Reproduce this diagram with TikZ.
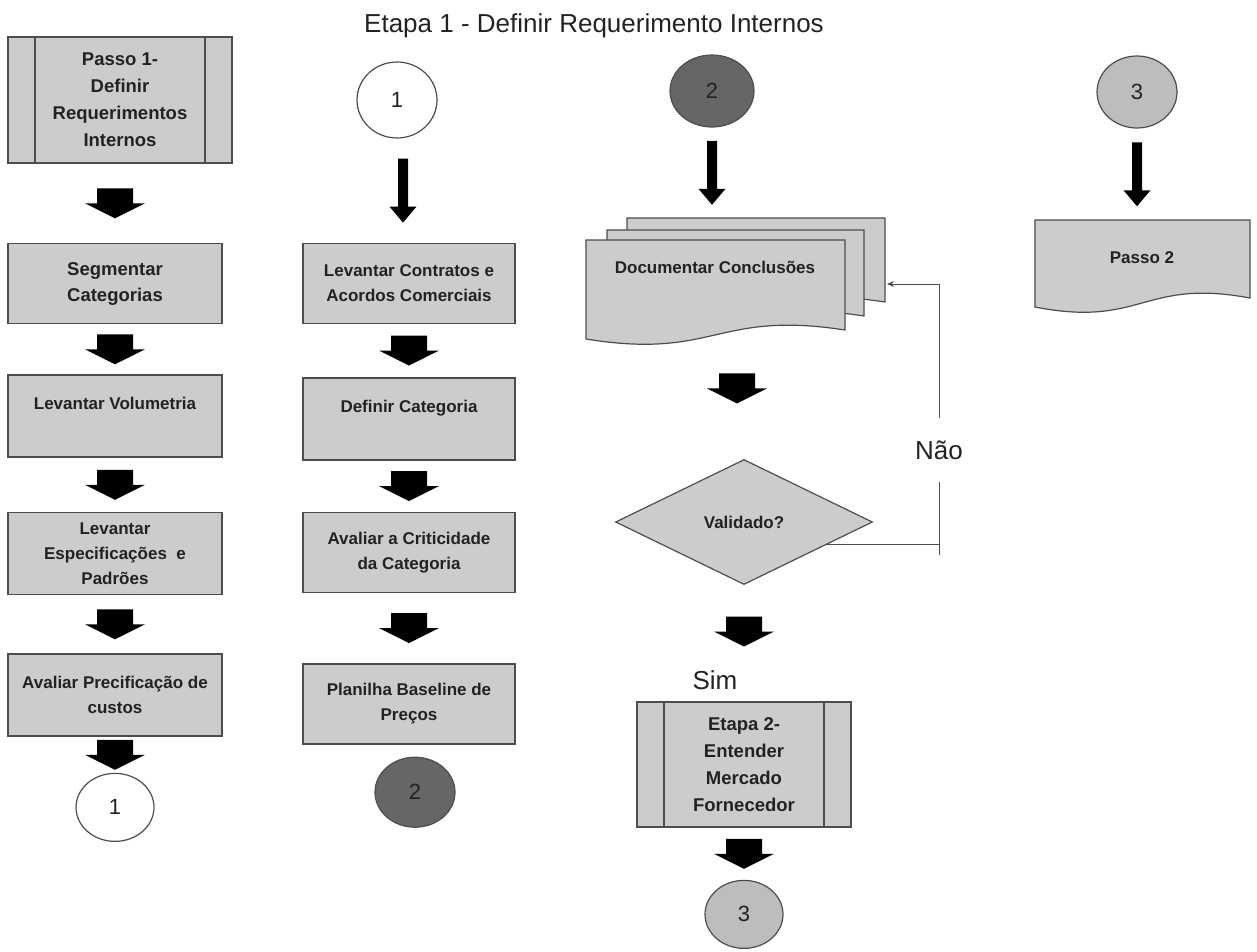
\documentclass[tikz,border=0pt]{standalone}
\usepackage{fontspec}
\setmainfont{Liberation Sans}
\usetikzlibrary{positioning, shapes.geometric, calc, arrows.meta}

\definecolor{boxgray}{HTML}{CCCCCC}
\definecolor{edgegray}{HTML}{4D4D4D}
\definecolor{darkdot}{HTML}{666666}
\definecolor{middot}{HTML}{BDBDBD}
\definecolor{inkgray}{HTML}{222222}

\newcommand{\docpage}[4]{\filldraw[pageshape] (#1,#2) -- (#3,#2) -- (#3,#4) .. controls ({0.5*(#1+#3)},{#4-20}) and ({0.5*(#1+#3)},{#4+30}) .. (#1,{#4+9}) -- cycle;}

\tikzset{
    taskbox/.style={draw=edgegray, fill=boxgray, line width=1.5pt, rectangle, minimum width=214pt, minimum height=80pt, inner sep=0pt, align=center, text=inkgray, font=\fontsize{17}{25}\selectfont\bfseries},
    procbox/.style={taskbox, minimum width=224pt, minimum height=126pt, font=\fontsize{18.5}{27}\selectfont\bfseries,
        path picture={\draw[edgegray, line width=1.2pt]
            ([xshift=27pt]path picture bounding box.north west) -- ([xshift=27pt]path picture bounding box.south west)
            ([xshift=-27pt]path picture bounding box.north east) -- ([xshift=-27pt]path picture bounding box.south east);}},
    refcirc/.style={ellipse, draw=edgegray, fill=white, line width=1.2pt, minimum width=78pt, minimum height=68pt, inner sep=0pt, text=inkgray, font=\fontsize{22}{22}\selectfont},
    decision/.style={diamond, aspect=2, draw=edgegray, fill=boxgray, line width=1.2pt, minimum width=257pt, minimum height=125pt, inner sep=0pt, text=inkgray, font=\fontsize{17}{25}\selectfont\bfseries},
    doctext/.style={align=center, inner sep=0pt, text=inkgray, font=\fontsize{17}{25}\selectfont\bfseries},
    pageshape/.style={draw=edgegray, fill=boxgray, line width=1.2pt},
    plainlabel/.style={inner sep=2pt, text=inkgray, font=\fontsize{26}{30}\selectfont},
    loopline/.style={draw=edgegray, line width=1pt},
    fatarrow/.pic={\fill[black] (-18,-15) -- (18,-15) -- (18,0) -- (30,0) -- (0,15) -- (-30,0) -- (-18,0) -- cycle;},
    thinarrow/.pic={\fill[black] (-5,-32) -- (5,-32) -- (5,16) -- (13.5,16) -- (0,32) -- (-13.5,16) -- (-5,16) -- cycle;},
}

\begin{document}
\begin{tikzpicture}[x=1pt, y=-1pt]
    \useasboundingbox (0,0) rectangle (1257,951);

    \node (Titulo) [plainlabel] at (594,26) {Etapa 1 - Definir Requerimento Internos};

    \node (Passo1) [procbox] at (120,100) {Passo 1-\\Definir\\Requerimentos\\Internos};
    \node (Segmentar) [taskbox, below=79pt of Passo1, xshift=-5pt, font=\fontsize{18.5}{26}\selectfont\bfseries] {Segmentar\\Categorias};
    \node (Volumetria) [taskbox, minimum height=82pt, below=50pt of Segmentar] {Levantar Volumetria\\\mbox{}};
    \node (Especificacoes) [taskbox, minimum height=82pt, below=54pt of Volumetria] {Levantar\\Especificações~ e\\Padrões};
    \node (Precificacao) [taskbox, minimum height=82pt, below=58pt of Especificacoes] {Avaliar Precificação de\\custos};
    \node (Circ1Bottom) [refcirc, below=36pt of Precificacao] {1};

    \node (Circ1Top) [refcirc, minimum width=80pt, minimum height=76pt] at (397,100) {1};
    \node (Contratos) [taskbox, minimum width=212pt, below=104pt of Circ1Top, xshift=12pt] {Levantar Contratos e\\Acordos Comerciais};
    \node (Categoria) [taskbox, minimum width=212pt, minimum height=82pt, below=53pt of Contratos] {Definir Categoria\\\mbox{}};
    \node (Criticidade) [taskbox, minimum width=212pt, below=51pt of Categoria] {Avaliar a Criticidade\\da Categoria};
    \node (Planilha) [taskbox, minimum width=212pt, below=70pt of Criticidade] {Planilha Baseline de\\Preços};
    \node (Circ2Bottom) [refcirc, fill=darkdot, minimum width=80pt, minimum height=70pt, below=12pt of Planilha, xshift=6pt] {2};

    \node (Circ2Top) [refcirc, fill=darkdot, minimum width=84pt, minimum height=72pt] at (712,91) {2};
    \docpage{627}{218}{885}{302}
    \docpage{607}{230}{864}{316}
    \docpage{586}{240}{845}{330}
    \node (Conclusoes) [doctext] at (715,267) {Documentar Conclusões};
    \coordinate (DocTopo) at (712,218);
    \coordinate (DocBase) at (730,318);
    \node (Validado) [decision] at (744,522) {Validado?};
    \node (Sim) [plainlabel] at (715,680) {Sim};
    \node (Etapa2) [procbox, minimum width=214pt, minimum height=125pt] at (744,764.5) {Etapa 2-\\Entender\\Mercado\\Fornecedor};
    \node (Circ3Bottom) [refcirc, fill=middot, below=52pt of Etapa2] {3};

    \node (Circ3Top) [refcirc, fill=middot, minimum width=80pt, minimum height=72pt] at (1137,92) {3};
    \docpage{1035}{220}{1250}{298}
    \node (Passo2) [doctext] at (1142,258) {Passo 2};
    \coordinate (Passo2Topo) at (1137,220);

    \pic at ($(Passo1.south -| Segmentar.north)!.5!(Segmentar.north)$) {fatarrow};
    \pic at ($(Segmentar.south)!.5!(Volumetria.north)$) {fatarrow};
    \pic at ($(Volumetria.south)!.5!(Especificacoes.north)$) {fatarrow};
    \pic at ($(Especificacoes.south)!.5!(Precificacao.north)$) {fatarrow};
    \pic at ($(Precificacao.south)!.5!(Circ1Bottom.north)$) {fatarrow};

    \pic at ($(Circ1Top.south)!.5!(Contratos.north)$) {thinarrow};
    \pic at ($(Contratos.south)!.5!(Categoria.north)$) {fatarrow};
    \pic at ($(Categoria.south)!.5!(Criticidade.north)$) {fatarrow};
    \pic at ($(Criticidade.south)!.5!(Planilha.north)$) {fatarrow};

    \pic at ($(Circ2Top.south)!.5!(DocTopo)$) {thinarrow};
    \pic at ($(DocBase)!.5!(Validado.north)$) {fatarrow};
    \pic at ($(Validado.south)!.4!(Etapa2.north)$) {fatarrow};
    \pic at ($(Etapa2.south)!.5!(Circ3Bottom.north)$) {fatarrow};

    \pic at ($(Circ3Top.south)!.5!(Passo2Topo)$) {thinarrow};

    \node (Nao) [plainlabel, minimum height=64pt] at (939,450) {Não};
    \coordinate (Volta) at (887,284);
    \coordinate (Saida) at ($(Validado.east)!.36!(Validado.south)$);
    \draw[loopline, -{Stealth[length=7pt, width=6pt]}] (Nao.north) |- (Volta);
    \draw[loopline] (Saida) -- (Saida -| Nao.south);
    \draw[loopline] (Nao.south) -- ($(Saida -| Nao.south)+(0,10)$);
\end{tikzpicture}
\end{document}
